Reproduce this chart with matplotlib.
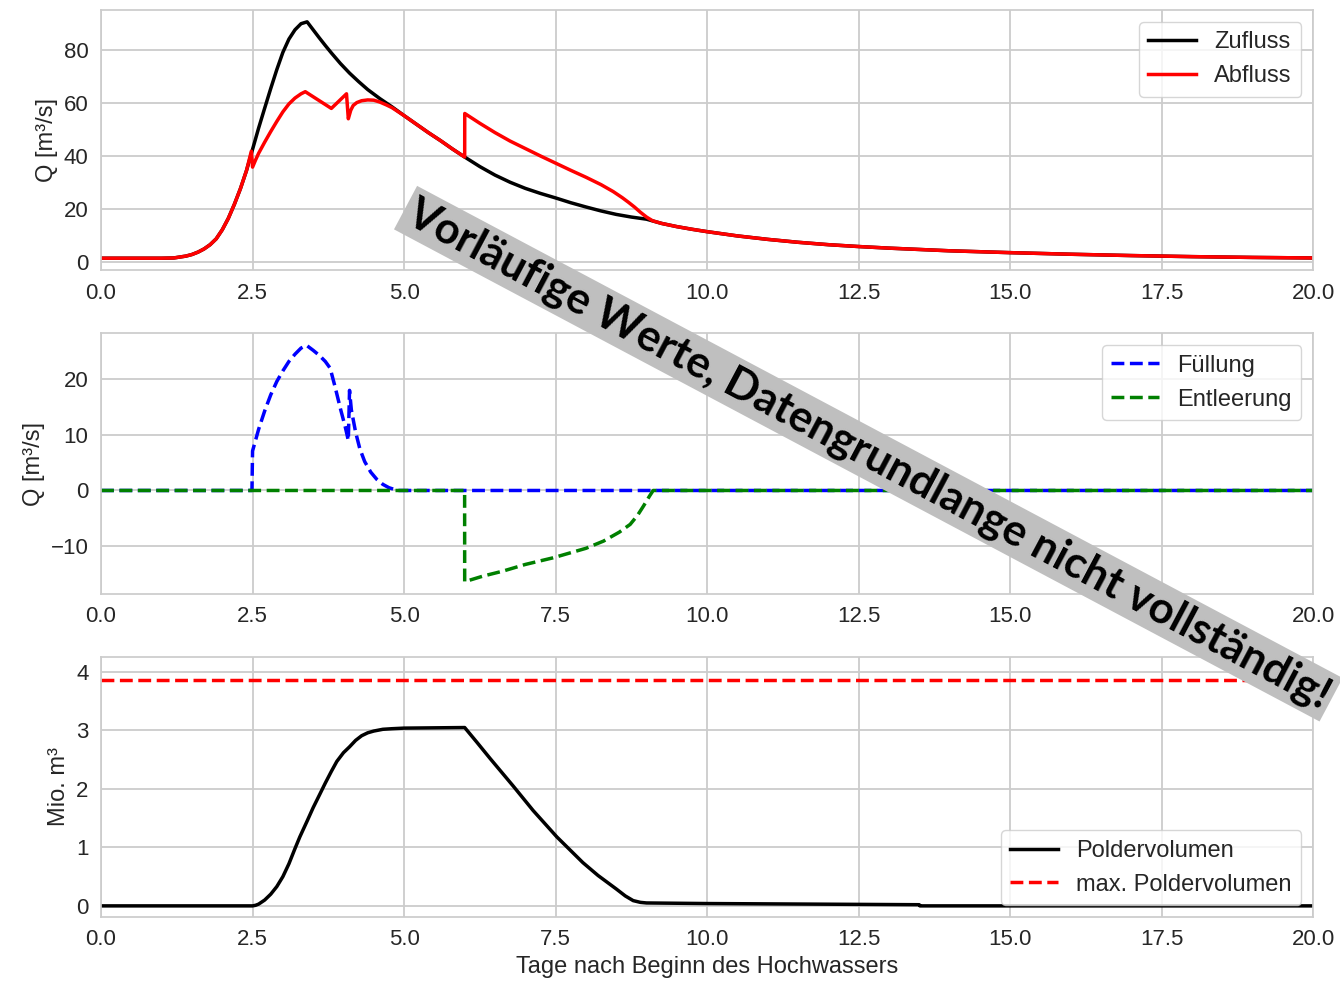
import matplotlib
matplotlib.use("Agg")
import matplotlib.pyplot as plt

# --- Zufluss / Abfluss [m3/s]
t_zu = [0, 1.0, 1.2, 1.4, 1.5, 1.6, 1.7, 1.8, 1.9, 2.0, 2.1, 2.2, 2.3, 2.4, 2.5,
        2.6, 2.7, 2.8, 2.9, 3.0, 3.1, 3.2, 3.3, 3.4, 3.5, 3.6, 3.7, 3.8, 3.95, 4.1,
        4.25, 4.4, 4.6, 4.8, 5.0, 5.2, 5.4, 5.6, 5.8, 6.0, 6.25, 6.5, 6.75, 7.0, 7.25,
        7.5, 7.75, 8.0, 8.25, 8.5, 8.75, 9.0, 9.25, 9.5, 9.75, 10, 10.5, 11, 11.5, 12,
        12.5, 13, 13.5, 14, 15, 16, 17, 18, 19, 20]
q_zu = [1.5, 1.5, 1.6, 2.3, 2.9, 3.8, 5.0, 6.6, 8.8, 12.2, 16.5, 21.8, 27.7, 34.5, 42.5,
        50.5, 58.0, 65.4, 72.5, 79.0, 84.0, 87.5, 89.8, 90.5, 87.5, 84.5, 81.6, 78.8, 74.8, 71.2,
        68.0, 65.0, 61.6, 58.5, 55.2, 52.0, 48.8, 45.8, 42.6, 39.6, 36.0, 32.8, 30.1, 27.8, 25.9,
        24.2, 22.4, 20.8, 19.3, 18.0, 17.0, 16.2, 14.6, 13.4, 12.4, 11.5, 9.9, 8.6, 7.5, 6.6,
        5.9, 5.3, 4.8, 4.3, 3.6, 3.0, 2.5, 2.1, 1.8, 1.6]

t_ab = [0, 1.0, 1.2, 1.4, 1.5, 1.6, 1.7, 1.8, 1.9, 2.0, 2.1, 2.2, 2.3, 2.4, 2.48,
        2.5, 2.55, 2.6, 2.7, 2.8, 2.9, 3.0, 3.1, 3.2, 3.3, 3.37, 3.8, 4.05, 4.08, 4.12,
        4.16, 4.22, 4.3, 4.4, 4.5, 4.6, 4.71, 4.8, 4.9, 5.0, 5.2, 5.4, 5.6, 5.8, 6.0,
        6.001, 6.25, 6.5, 6.75, 7.0, 7.25, 7.5, 7.75, 8.0, 8.25, 8.45, 8.6, 8.7, 8.8, 8.9,
        9.0, 9.1, 9.25, 9.5, 9.75, 10, 10.5, 11, 11.5, 12, 12.5, 13, 13.5, 14, 15, 16,
        17, 18, 19, 20]
q_ab = [1.5, 1.5, 1.6, 2.3, 2.9, 3.8, 5.0, 6.6, 8.8, 12.2, 16.5, 21.8, 27.7, 34.5, 41.8,
        35.8, 38.5, 41.0, 45.2, 49.2, 53.0, 56.6, 59.6, 61.8, 63.4, 64.2, 57.9, 63.4, 54.0, 57.2,
        59.0, 60.1, 60.8, 61.1, 61.0, 60.3, 59.2, 58.2, 56.7, 55.2, 52.0, 48.8, 45.8, 42.6, 39.6,
        56.0, 52.3, 48.8, 45.6, 42.8, 40.0, 37.3, 34.6, 32.0, 29.2, 26.6, 24.3, 22.6, 20.8, 18.8,
        17.0, 15.6, 14.6, 13.4, 12.4, 11.5, 9.9, 8.6, 7.5, 6.6, 5.9, 5.3, 4.8, 4.3, 3.6, 3.0,
        2.5, 2.1, 1.8, 1.6]

# --- Fuellung / Entleerung [m3/s]
t_fill = [0, 2.49, 2.5, 2.6, 2.7, 2.8, 2.9, 3.0, 3.1, 3.2, 3.3, 3.39, 3.5, 3.6, 3.7,
          3.78, 3.86, 3.95, 4.03, 4.08, 4.1, 4.13, 4.2, 4.27, 4.35, 4.45, 4.55, 4.65,
          4.75, 4.85, 4.9, 20]
q_fill = [0, 0, 7.1, 11.0, 14.3, 17.2, 19.6, 21.5, 23.2, 24.5, 25.6, 26.1, 25.2, 24.3, 23.2,
          22.0, 18.7, 14.7, 11.4, 9.0, 18.0, 14.5, 10.5, 7.5, 5.2, 3.3, 2.0, 1.1,
          0.5, 0.15, 0, 0]

t_empty = [0, 5.999, 6.0, 6.3, 6.63, 7.0, 7.46, 8.0, 8.29, 8.55, 8.73, 8.85, 8.95,
           9.05, 9.11, 20]
q_empty = [0, 0, -16.4, -15.4, -14.5, -13.3, -12.1, -10.4, -9.1, -7.5, -6.1, -4.5, -2.8,
           -1.0, 0, 0]

# --- Poldervolumen [Mio. m3]
t_vol = [0, 2.5, 2.55, 2.6, 2.7, 2.8, 2.9, 3.0, 3.1, 3.2, 3.28, 3.4, 3.5, 3.61, 3.7,
         3.8, 3.89, 4.0, 4.1, 4.2, 4.3, 4.4, 4.5, 4.65, 4.8, 5.0, 6.0, 6.2, 6.42, 6.8,
         7.13, 7.52, 7.95, 8.2, 8.5, 8.65, 8.78, 8.9, 9.0, 10, 13.5, 13.51, 20]
v_vol = [0, 0, 0.01, 0.03, 0.1, 0.2, 0.33, 0.5, 0.72, 0.98, 1.18, 1.45, 1.68, 1.91, 2.1,
         2.3, 2.47, 2.62, 2.72, 2.83, 2.91, 2.96, 2.99, 3.02, 3.03, 3.04, 3.05, 2.8, 2.52, 2.05,
         1.63, 1.18, 0.74, 0.52, 0.29, 0.17, 0.09, 0.06, 0.05, 0.04, 0.02, 0.0, 0.0]
v_max = 3.87

x_ticks = [0, 2.5, 5, 7.5, 10, 12.5, 15, 17.5, 20]

plt.rcParams.update({
    "font.family": ["Liberation Sans", "DejaVu Sans"],
    "axes.edgecolor": "0.8",
    "axes.linewidth": 1.25,
    "axes.grid": True,
    "grid.color": "0.8",
    "grid.linewidth": 1.3,
    "text.color": "0.15",
    "axes.labelcolor": "0.15",
    "xtick.color": "0.15",
    "ytick.color": "0.15",
    "xtick.major.size": 0,
    "ytick.major.size": 0,
    "xtick.major.pad": 9,
    "ytick.major.pad": 9,
    "xtick.labelsize": 16,
    "ytick.labelsize": 16,
    "axes.labelsize": 17,
    "legend.fontsize": 17,
    "legend.edgecolor": "0.8",
})

fig, (ax1, ax2, ax3) = plt.subplots(3, 1, figsize=(13.4, 9.82), dpi=100)
fig.subplots_adjust(left=0.0754, right=0.98, top=0.9898, bottom=0.0662, hspace=0.244)

ax1.plot(t_zu, q_zu, color="black", lw=2.5, label="Zufluss")
ax1.plot(t_ab, q_ab, color="red", lw=2.5, label="Abfluss")
ax1.set_ylabel("Q [m³/s]")
ax1.legend(loc="upper right")

ax2.plot(t_fill, q_fill, color="blue", ls="--", lw=2.5, label="Füllung")
ax2.plot(t_empty, q_empty, color="green", ls="--", lw=2.5, label="Entleerung")
ax2.set_ylabel("Q [m³/s]")
ax2.legend(loc="upper right")

ax3.plot(t_vol, v_vol, color="black", lw=2.5, label="Poldervolumen")
ax3.axhline(v_max, color="red", ls="--", lw=2.5, label="max. Poldervolumen")
ax3.set_ylim(-0.19, v_max * 1.1)
ax3.set_ylabel("Mio. m³")
ax3.set_xlabel("Tage nach Beginn des Hochwassers")
ax3.legend(loc="lower right")

for ax in (ax1, ax2, ax3):
    ax.set_xlim(0, 20)
    ax.set_xticks(x_ticks)
    ax.set_xticklabels([f"{v:.1f}" for v in x_ticks])

fig.text(0.648, 0.538, "Vorläufige Werte, Datengrundlange nicht vollständig!",
         rotation=-28, ha="center", va="center", fontsize=31.5, fontweight="bold",
         family=["Lato", "DejaVu Sans"], color="black",
         bbox=dict(facecolor="#bfbfbf", edgecolor="none", pad=3))

fig.savefig("out.png", dpi=100)
